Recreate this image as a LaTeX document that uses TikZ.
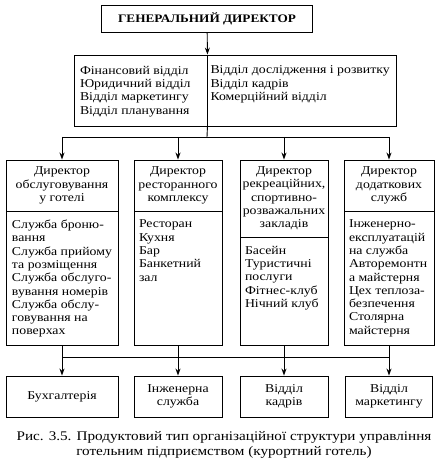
\documentclass[tikz,border=0pt]{standalone}
\usepackage{fontspec}
\setmainfont[FakeStretch=1.15]{Liberation Serif}
\usetikzlibrary{arrows.meta}
\begin{document}
\begin{tikzpicture}[x=1pt, y=-1pt, line width=0.9pt,
  box/.style={draw, inner sep=0pt, align=center, font=\fontsize{12}{13.3}\selectfont},
  list/.style={draw, inner sep=0pt, font=\fontsize{12}{13.3}\selectfont},
  arr/.style={-{Stealth[length=7pt, width=5pt]}}]
\useasboundingbox (0,0) rectangle (439,462);
% general director and staff departments
\node (gd) at (207,18.5) [box, minimum width=211pt, minimum height=27pt, font=\fontsize{11.5}{13.3}\selectfont\bfseries] {ГЕНЕРАЛЬНИЙ ДИРЕКТОР};
\node (ldep) at (140.5,90.5) [list, minimum width=133pt, minimum height=71pt] {\parbox[c][49pt][t]{121pt}{\raggedright Фінансовий відділ\\Юридичний відділ\\Відділ маркетингу\\Відділ планування}};
\node (rdep) at (301.5,90.5) [list, minimum width=189pt, minimum height=71pt] {\parbox[c][49pt][t]{182pt}{\raggedright Відділ дослідження і розвитку\\Відділ кадрів\\Комерційний відділ}};
% directors
\node (h1) at (62,185.5) [box, minimum width=112pt, minimum height=51pt] {Директор\\обслуговування\\у готелі};
\node (h2) at (178,185.5) [box, minimum width=88pt, minimum height=51pt] {Директор\\ресторанного\\комплексу};
\node (h3) at (284,198.5) [box, minimum width=88pt, minimum height=77pt] {Директор\\рекреаційних,\\спортивно-\\розважальних\\закладів};
\node (h4) at (389,185.5) [box, minimum width=90pt, minimum height=51pt] {Директор\\додаткових\\служб};
\node (s1) at (62,278) [list, minimum width=112pt, minimum height=134pt] {\parbox[c][116pt][t]{100pt}{\raggedright Служба броню-\\вання\\Служба прийому\\та розміщення\\Служба обслуго-\\вування номерів\\Служба обслу-\\говування на\\поверхах}};
\node (s2) at (178,278) [list, minimum width=88pt, minimum height=134pt] {\parbox[c][116pt][t]{78pt}{\raggedright Ресторан\\Кухня\\Бар\\Банкетний\\зал}};
\node (s3) at (284,291) [list, minimum width=88pt, minimum height=108pt] {\parbox[c][90pt][t]{78pt}{\raggedright Басейн\\Туристичні\\послуги\\Фітнес-клуб\\Нічний клуб}};
\node (s4) at (389,278) [list, minimum width=90pt, minimum height=134pt] {\parbox[c][116pt][t]{80pt}{\raggedright Інженерно-\\експлуатацій\\на служба\\Авторемонтн\\а майстерня\\Цех теплоза-\\безпечення\\Столярна\\майстерня}};
% common services
\node (b1) at (62,396.5) [box, minimum width=112pt, minimum height=41pt] {Бухгалтерія};
\node (b2) at (178,396.5) [box, minimum width=88pt, minimum height=41pt] {Інженерна\\служба};
\node (b3) at (284,396.5) [box, minimum width=88pt, minimum height=41pt] {Відділ\\кадрів};
\node (b4) at (389,396.5) [box, minimum width=87pt, minimum height=41pt] {Відділ\\маркетингу};
\node (cap) at (224,444.5) [align=center, font=\fontsize{13.2}{15}\selectfont] {Рис. 3.5. Продуктовий тип організаційної структури управління\\готельним підприємством (курортний готель)};
% connectors
\coordinate (bus1) at (207,137);
\coordinate (bus2) at (0,357);
\draw[arr] (gd) -- (ldep.north east);
\draw (ldep.south east) -- (bus1);
\draw (h1.north |- bus1) -- (h4.north |- bus1);
\draw (s1.south |- bus2) -- (s4.south |- bus2);
\foreach \i in {1,...,4} {
  \draw[arr] (h\i.north |- bus1) -- (h\i.north);
  \draw[arr] (s\i.south) -- (b\i.north);
}
\end{tikzpicture}
\end{document}
